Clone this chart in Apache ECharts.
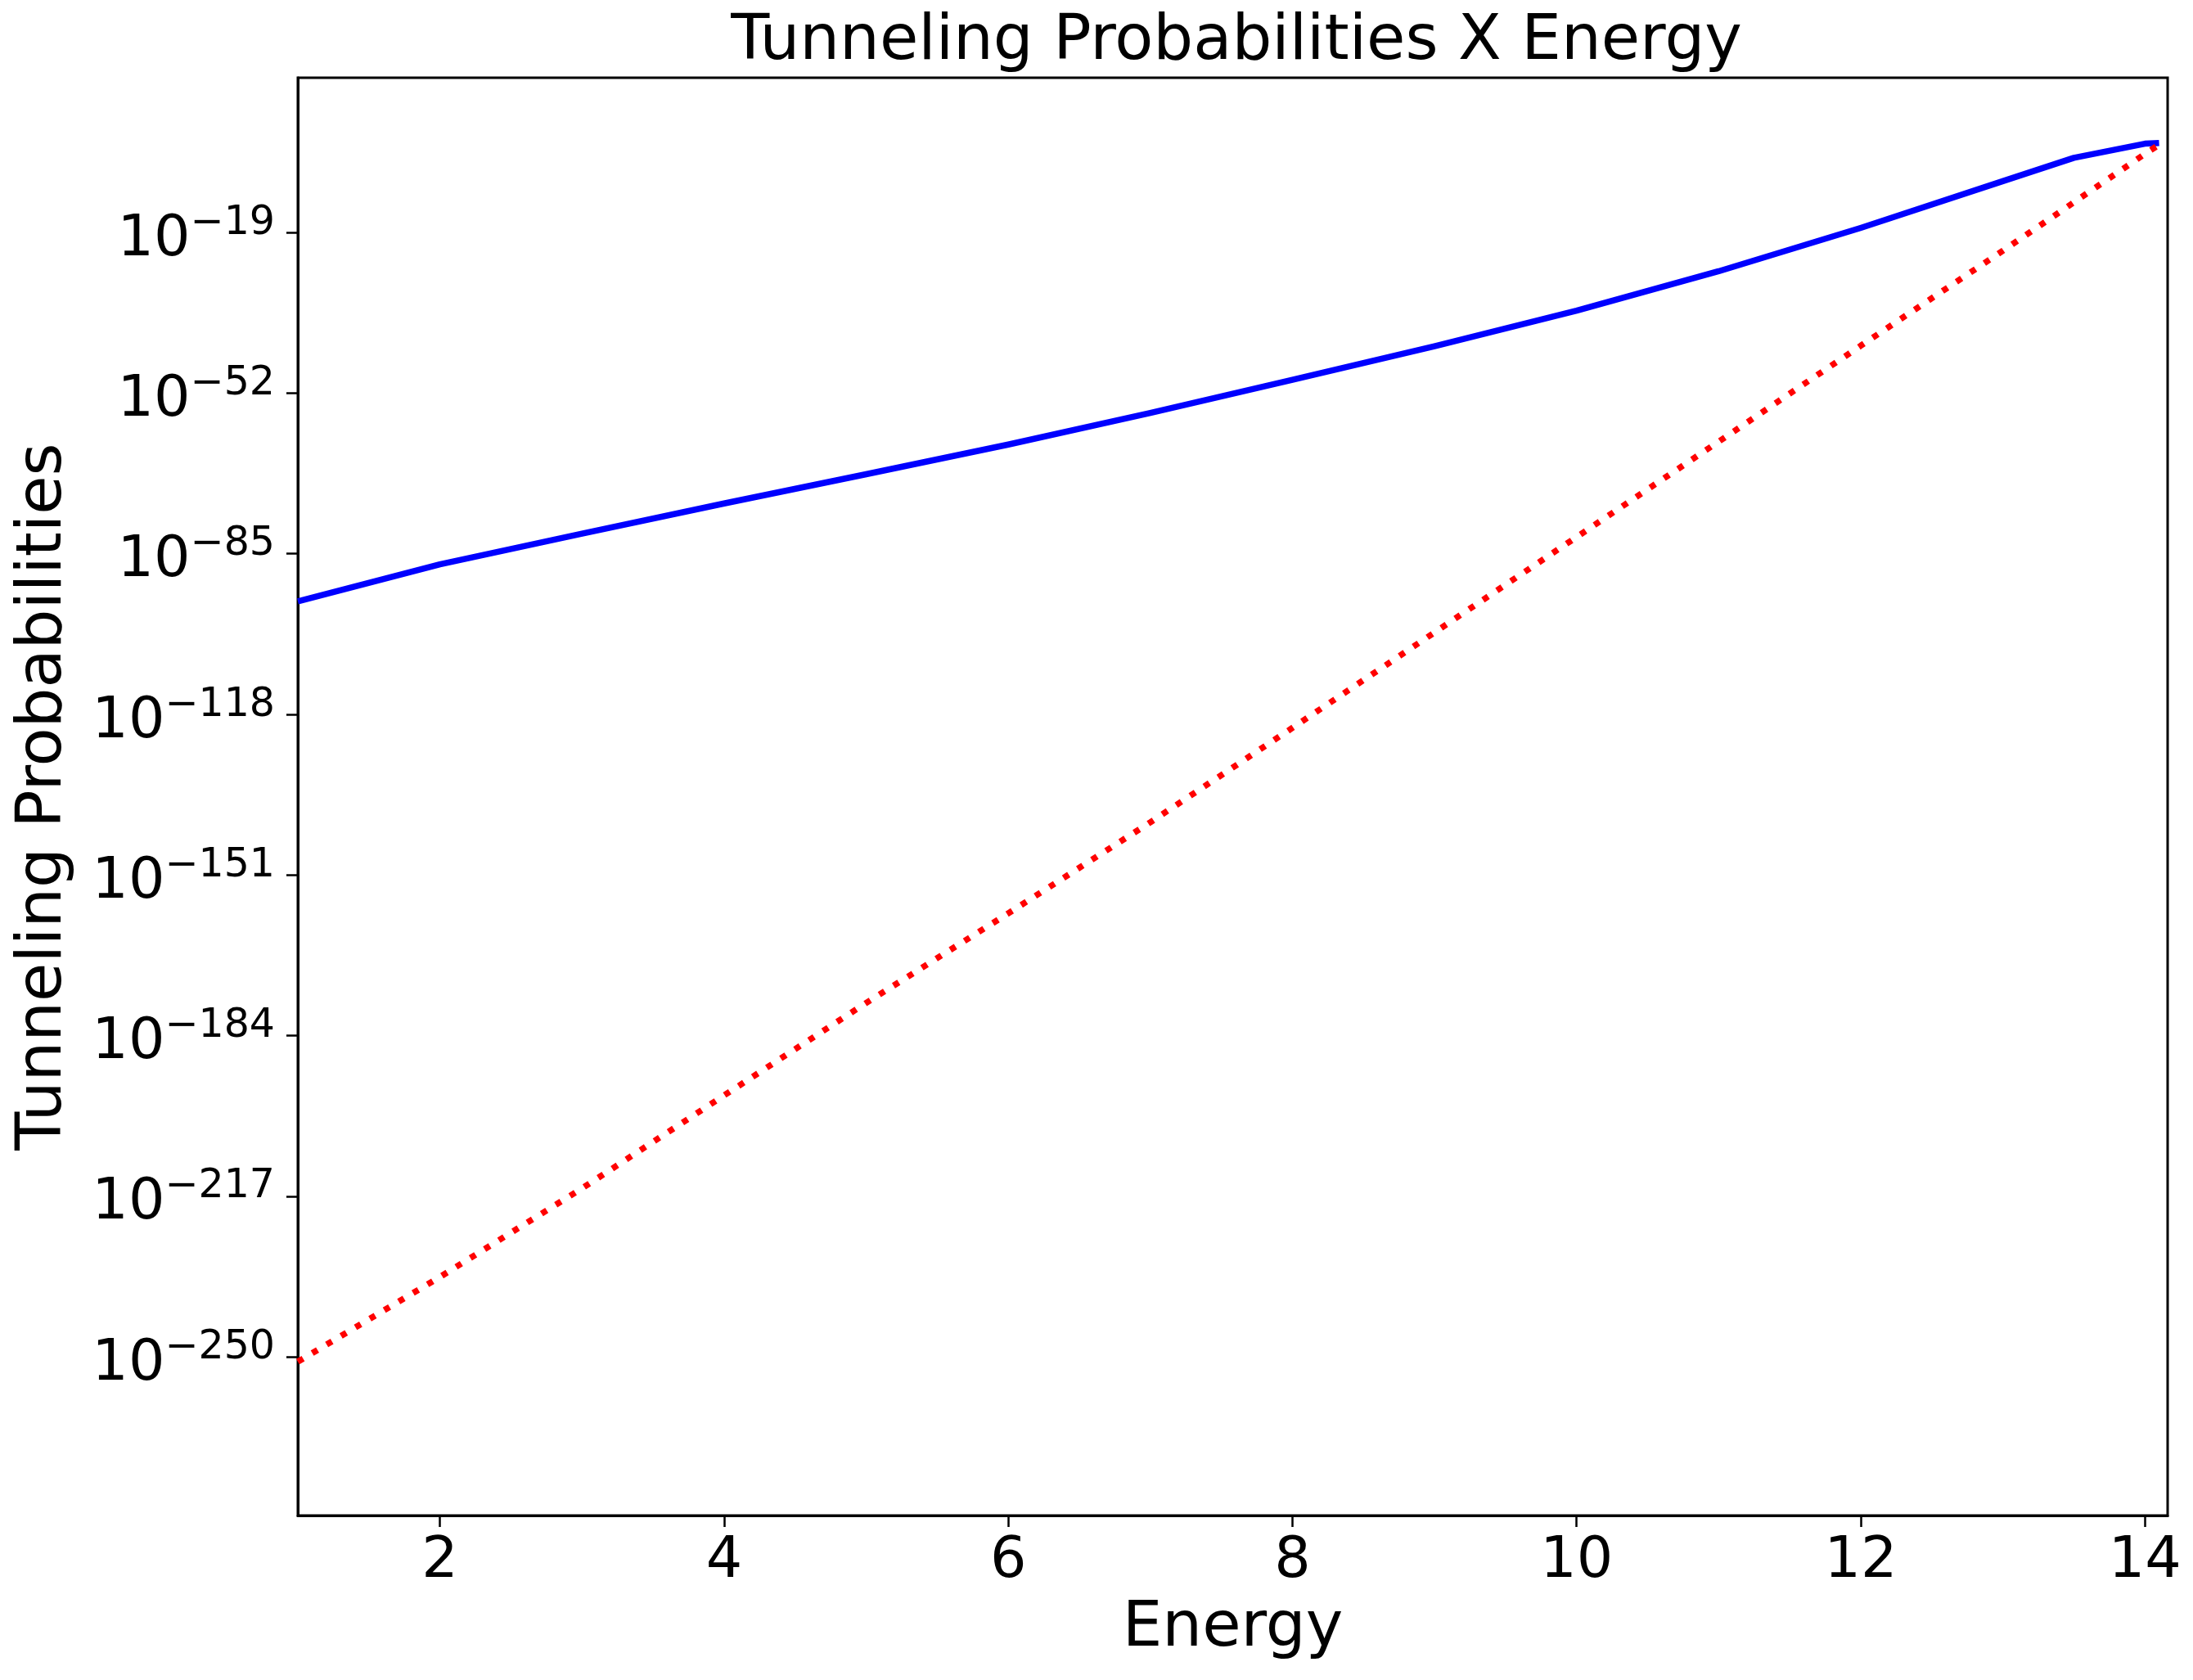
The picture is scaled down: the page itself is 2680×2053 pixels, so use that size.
<!DOCTYPE html>
<html><head><meta charset="utf-8">
<script src="https://cdn.jsdelivr.net/npm/echarts@6/dist/echarts.min.js"></script>
<style>html,body{margin:0;padding:0;background:#fff}#main{width:2680px;height:2053px}</style>
</head><body><div id="main"></div>
<script>
// Energy values and log10 of tunneling probabilities
const energyBlue = [1, 2, 3, 4, 5, 6, 7, 8, 9, 10, 11, 12, 13, 13.5, 14, 14.1];
const log10ProbBlue = [-94.8, -87.2, -80.9, -74.7, -68.7, -62.6, -56.1, -49.3, -42.4, -35.1, -27.0, -18.1, -8.5, -3.7, -0.8, -0.65];
const energyRed = [1, 2, 3, 4, 5, 6, 7, 8, 9, 10, 11, 12, 13, 14, 14.1];
const log10ProbRed = [-251.0, -233.6, -215.4, -196.3, -177.3, -158.9, -140.2, -120.8, -101.2, -81.6, -62.0, -42.3, -22.8, -2.9, -1.0];
const xTicks = [2, 4, 6, 8, 10, 12, 14];
const yTickExponents = [-250, -217, -184, -151, -118, -85, -52, -19];

const FONT = 'DejaVu Sans';
const chart = echarts.init(document.getElementById('main'), null, {renderer: 'canvas'});
const zip = (xs, ys) => xs.map((x, i) => [x, ys[i]]);

chart.setOption({
  animation: false,
  backgroundColor: '#ffffff',
  title: {
    text: 'Tunneling Probabilities X Energy',
    left: 1506, top: 8, textAlign: 'center',
    textStyle: {fontFamily: FONT, fontSize: 77, fontWeight: 'normal', color: '#000'}
  },
  grid: {left: 364, right: 31, top: 95, bottom: 201, show: true, borderColor: '#000', borderWidth: 3, backgroundColor: 'transparent'},
  xAxis: {
    type: 'value', min: 1, max: 14.16,
    name: 'Energy', nameLocation: 'middle', nameGap: 100,
    nameTextStyle: {fontFamily: FONT, fontSize: 77, color: '#000'},
    axisLine: {show: true, onZero: false, lineStyle: {color: '#000', width: 3}},
    axisTick: {show: true, customValues: xTicks, length: 14, lineStyle: {color: '#000', width: 2.5}},
    axisLabel: {customValues: xTicks, fontFamily: FONT, fontSize: 70, color: '#000', margin: 22},
    splitLine: {show: false}
  },
  yAxis: {
    type: 'value', min: -282.6, max: 12.75,
    name: 'Tunneling Probabilities', nameLocation: 'middle', nameGap: 272, nameRotate: 90,
    nameTextStyle: {fontFamily: FONT, fontSize: 77, color: '#000'},
    axisLine: {show: true, onZero: false, lineStyle: {color: '#000', width: 3}},
    axisTick: {show: true, customValues: yTickExponents, length: 14, lineStyle: {color: '#000', width: 2.5}},
    axisLabel: {
      customValues: yTickExponents, margin: 28, padding: [9, 0, 0, 0],
      formatter: v => '{b|10}{s|\u2212' + Math.abs(v) + '}',
      rich: {
        b: {fontFamily: FONT, fontSize: 70, color: '#000', lineHeight: 80, verticalAlign: 'bottom'},
        s: {fontFamily: FONT, fontSize: 49, color: '#000', lineHeight: 43, verticalAlign: 'top'}
      }
    },
    splitLine: {show: false}
  },
  series: [
    {
      type: 'line', data: zip(energyBlue, log10ProbBlue), showSymbol: false, clip: true,
      lineStyle: {color: '#0000ff', width: 7.5, cap: 'butt', join: 'round'}
    },
    {
      type: 'line', data: zip(energyRed, log10ProbRed), showSymbol: false, clip: true,
      lineStyle: {color: '#ff0000', width: 7.5, type: [7.5, 13], cap: 'butt'}
    }
  ]
});
</script>
</body></html>
